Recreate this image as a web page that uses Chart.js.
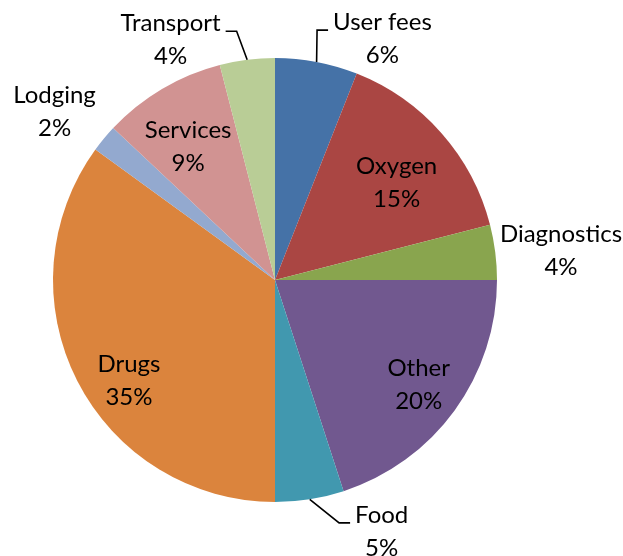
<!DOCTYPE html>
<html>
<head>
<meta charset="utf-8">
<script src="https://cdn.jsdelivr.net/npm/chart.js@4"></script>
<style>
  html, body { margin: 0; padding: 0; background: #fff; }
  #costChart { display: block; }
</style>
</head>
<body>
<canvas id="costChart" width="623" height="556"></canvas>
<script>
var categories = ['User fees', 'Oxygen', 'Diagnostics', 'Other', 'Food', 'Drugs', 'Lodging', 'Services', 'Transport'];
var shares = [6, 15, 4, 20, 5, 35, 2, 9, 4];
var sliceColors = ['#4572A7', '#AA4643', '#89A54E', '#71588F', '#4198AF', '#DB843D', '#93A9CF', '#D19392', '#B9CD96'];

// where each label sits: distance from centre (in radii), nudge off the mid angle (degrees), leader line
var labelPlacement = [
  { dist: 1.19, shift: 13.2, leader: true },
  { dist: 0.70, shift: 2.9 },
  { dist: 1.295, shift: 1.4 },
  { dist: 0.80, shift: 0 },
  { dist: 1.23, shift: -14, leader: true },
  { dist: 0.80, shift: -7.7 },
  { dist: 1.25, shift: -2.2 },
  { dist: 0.715, shift: -2.6 },
  { dist: 1.18, shift: -16.3, leader: true }
];

var LINE_GAP = 33;

var sliceLabels = {
  id: 'sliceLabels',
  afterDatasetsDraw(chart) {
    const ctx = chart.ctx;
    const arcs = chart.getDatasetMeta(0).data;
    ctx.save();
    ctx.font = '24px Lato';
    ctx.fillStyle = '#000';
    ctx.strokeStyle = '#000';
    ctx.lineWidth = 1.6;
    ctx.textAlign = 'center';
    ctx.textBaseline = 'middle';
    arcs.forEach((arc, i) => {
      const p = arc.getProps(['x', 'y', 'startAngle', 'endAngle', 'outerRadius'], true);
      const place = labelPlacement[i];
      const mid = (p.startAngle + p.endAngle) / 2;
      const a = mid + place.shift * Math.PI / 180;
      const cx = p.x + Math.cos(a) * p.outerRadius * place.dist;
      const cy = p.y + Math.sin(a) * p.outerRadius * place.dist;
      const line1 = categories[i];
      const line2 = shares[i] + '%';
      const y1 = cy - LINE_GAP / 2;
      const y2 = cy + LINE_GAP / 2;
      ctx.fillText(line1, cx, y1);
      ctx.fillText(line2, cx, y2);

      if (place.leader) {
        const half = ctx.measureText(line1).width / 2;
        const right = cx > p.x;
        const edge = right ? cx - half : cx + half;
        const dir = right ? -1 : 1;
        const ly = y1 + 8;
        const sx = p.x + Math.cos(mid) * p.outerRadius;
        const sy = p.y + Math.sin(mid) * p.outerRadius;
        ctx.beginPath();
        ctx.moveTo(sx, sy);
        ctx.lineTo(edge + dir * 16, ly);
        ctx.lineTo(edge + dir * 5, ly);
        ctx.stroke();
      }
    });
    ctx.restore();
  }
};

new Chart(document.getElementById('costChart'), {
  type: 'pie',
  data: {
    labels: categories,
    datasets: [{
      data: shares,
      backgroundColor: sliceColors,
      borderWidth: 0
    }]
  },
  options: {
    responsive: false,
    animation: false,
    layout: {
      padding: { left: 53, right: 126, top: 58, bottom: 54 }
    },
    plugins: {
      legend: { display: false },
      tooltip: { enabled: false }
    }
  },
  plugins: [sliceLabels]
});
</script>
</body>
</html>
